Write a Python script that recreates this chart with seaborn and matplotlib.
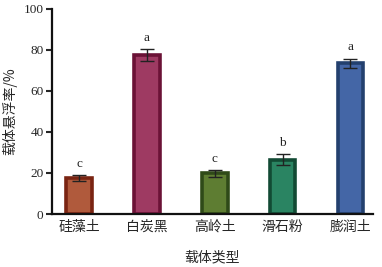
import matplotlib
matplotlib.use("Agg")
import matplotlib.pyplot as plt
import seaborn as sns
import pandas as pd

categories = ["硅藻土", "白炭黑", "高岭土", "滑石粉", "膨润土"]
values = [17.6, 77.6, 19.8, 26.5, 73.6]
errors = [1.5, 3.0, 1.6, 2.6, 2.2]
letters = ["c", "a", "c", "b", "a"]
fill_colors = ["#b05a3c", "#9e3a62", "#5e7d32", "#2a8462", "#4466a6"]
edge_colors = ["#7a2412", "#6b1236", "#2f4a18", "#124a34", "#23406e"]
yticks = [0, 20, 40, 60, 80, 100]

sns.set_style("ticks")
plt.rcParams['font.family'] = ['Noto Sans CJK SC', 'DejaVu Sans']

df = pd.DataFrame({"cat": categories, "val": values})

fig = plt.figure(figsize=(3.82, 2.67), dpi=100)
ax = fig.add_axes([0.136, 0.1985, 0.84, 0.768])

sns.barplot(data=df, x="cat", y="val", hue="cat", palette=fill_colors,
            width=0.38, legend=False, ax=ax, errorbar=None, saturation=1)
for patch, ec in zip(ax.patches, edge_colors):
    patch.set_edgecolor(ec)
    patch.set_linewidth(2.6)

xs = list(range(len(categories)))
ax.errorbar(xs, values, yerr=errors, fmt="none", ecolor="#222222",
            elinewidth=1.0, capsize=5, capthick=1.0, zorder=5)
for x, v, e, t in zip(xs, values, errors, letters):
    ax.text(x, v + e + 2.5, t, ha="center", va="bottom", fontsize=9.5,
            family="Liberation Serif", color="#222222")

ax.set_xlim(-0.4, 4.33)
ax.set_ylim(0, 100)
ax.set_yticks(yticks)
ax.set_yticklabels([str(t) for t in yticks], family="Liberation Serif", fontsize=9.5)
ax.set_xticks(xs)
ax.set_xticklabels(categories, fontsize=10)
ax.tick_params(axis="x", length=0, pad=4)
ax.tick_params(axis="y", length=4, width=1.5, pad=2)
for s in ["top", "right"]:
    ax.spines[s].set_visible(False)
for s in ["left", "bottom"]:
    ax.spines[s].set_linewidth(1.6)
    ax.spines[s].set_color("#111111")

ax.set_xlabel("载体类型", fontsize=10, labelpad=12)
ax.set_ylabel("载体悬浮率/%", fontsize=10, va="center")
ax.yaxis.set_label_coords(-0.131, 0.5)

fig.savefig("out.png", dpi=100)
